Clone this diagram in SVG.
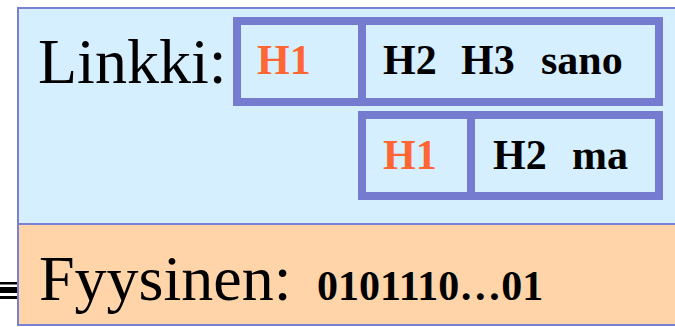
<svg xmlns="http://www.w3.org/2000/svg" width="675" height="327" viewBox="0 0 675 327">
  <style>
    .layer { stroke: #7a80d2; stroke-width: 2; }
    .frame { fill: #d5effe; stroke: #757bcf; stroke-width: 8; }
    .div { stroke: #757bcf; stroke-width: 8; }
    .big { font-family: "Liberation Serif", "Times New Roman", serif; font-size: 64px; fill: #000; }
    .hdr { font-family: "Liberation Serif", "Times New Roman", serif; font-size: 42px; font-weight: bold; fill: #000; }
    .h1 { fill: #ff6633; }
  </style>

  <!-- link layer band -->
  <g id="link-layer">
    <rect class="layer" x="18" y="8" width="670" height="216" fill="#d5effe"/>
    <text class="big" x="38" y="83">Linkki:</text>
  </g>

  <!-- physical layer band -->
  <g id="physical-layer">
    <rect class="layer" x="18" y="224" width="670" height="101" fill="#fed4a8"/>
    <text class="big" x="39" y="300">Fyysinen:</text>
    <text class="hdr" x="317" y="300" font-size="43">0101110…01</text>
  </g>

  <!-- first frame: H1 | H2 H3 sano -->
  <g id="frame-1">
    <rect class="frame" x="237" y="21" width="422" height="81"/>
    <line class="div" x1="362" y1="21" x2="362" y2="102"/>
    <text class="hdr h1" x="257" y="74">H1</text>
    <text class="hdr" x="383" y="74">H2</text>
    <text class="hdr" x="461" y="74">H3</text>
    <text class="hdr" x="541" y="74">sano</text>
  </g>

  <!-- second frame: H1 | H2 ma -->
  <g id="frame-2">
    <rect class="frame" x="362" y="115" width="297" height="81"/>
    <line class="div" x1="471" y1="115" x2="471" y2="196"/>
    <text class="hdr h1" x="383" y="169">H1</text>
    <text class="hdr" x="493" y="169">H2</text>
    <text class="hdr" x="572" y="169">ma</text>
  </g>

  <!-- wire stub entering the physical layer -->
  <g id="connectors" fill="#000">
    <rect x="0" y="282" width="17" height="2.5"/>
    <rect x="0" y="287" width="17" height="6"/>
    <rect x="0" y="296" width="17" height="3"/>
  </g>
</svg>
